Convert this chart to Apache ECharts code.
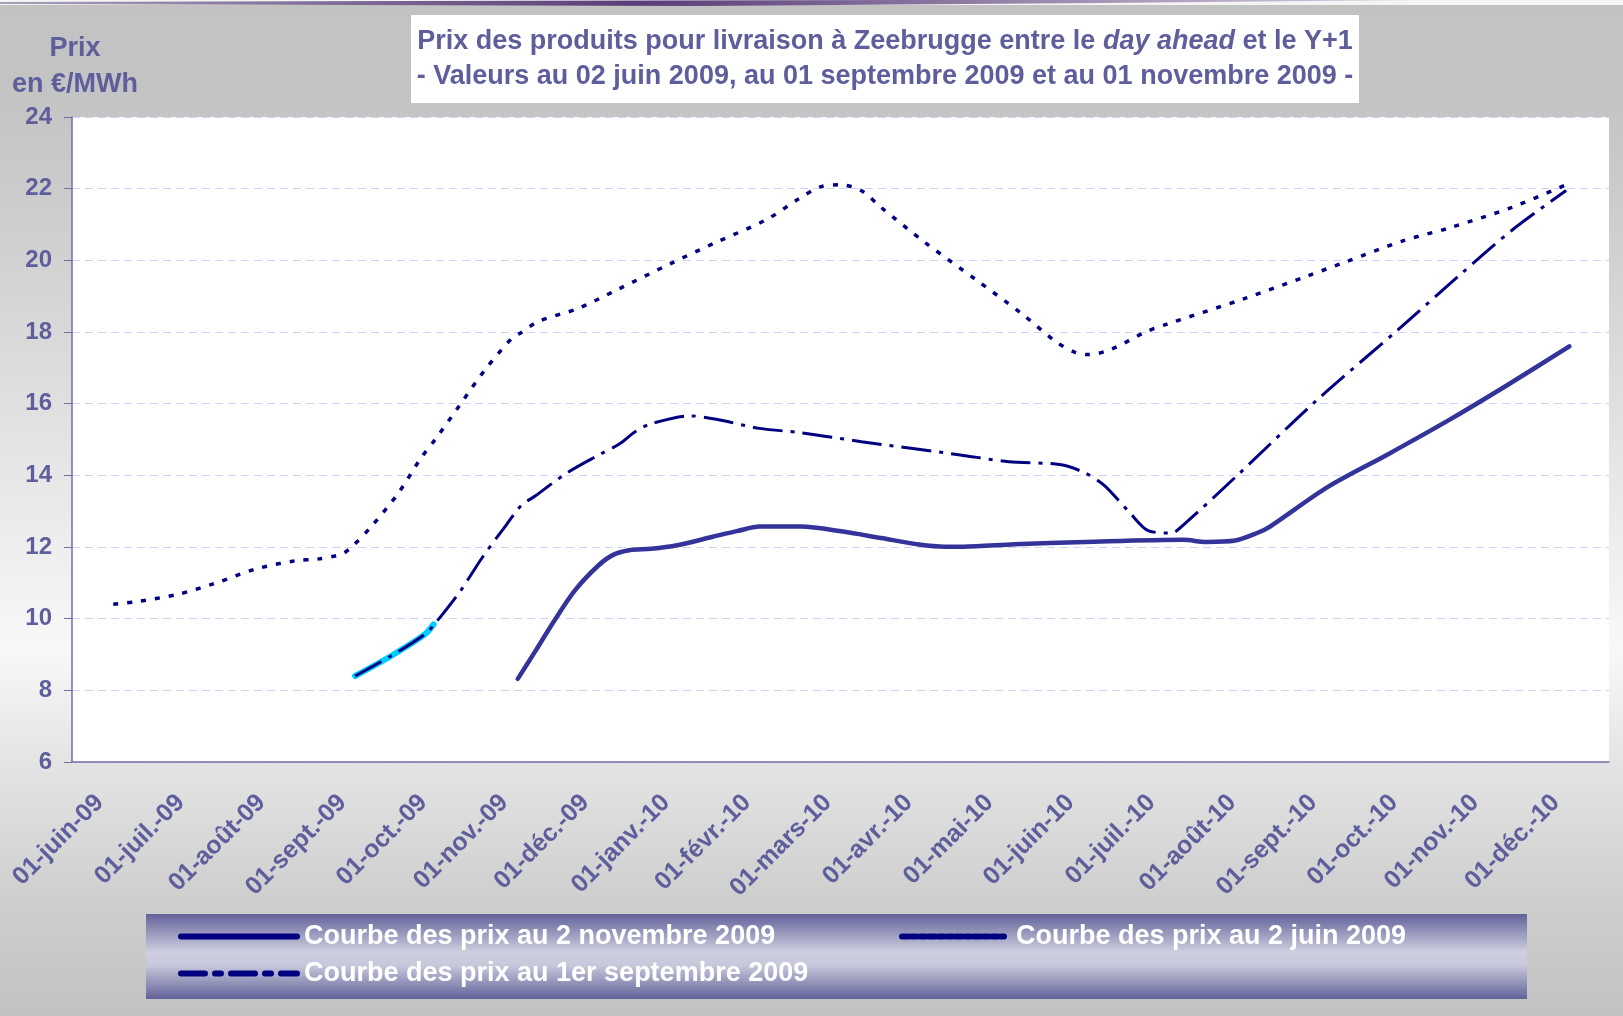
<!DOCTYPE html>
<html>
<head>
<meta charset="utf-8">
<title>Prix Zeebrugge</title>
<script src="https://cdn.jsdelivr.net/npm/echarts@6/dist/echarts.min.js"></script>
<style>
    html, body { margin: 0; padding: 0; }
    #grafico { width: 1623px; height: 1016px; }
</style>
</head>
<body>
<div id="grafico"></div>
<script>
// categories of the x axis (one per month)
var moisLabels = ['01-juin-09', '01-juil.-09', '01-août-09', '01-sept.-09', '01-oct.-09', '01-nov.-09', '01-déc.-09',
    '01-janv.-10', '01-févr.-10', '01-mars-10', '01-avr.-10', '01-mai-10', '01-juin-10', '01-juil.-10',
    '01-août-10', '01-sept.-10', '01-oct.-10', '01-nov.-10', '01-déc.-10'];

// y axis ticks
var prixTicks = [6, 8, 10, 12, 14, 16, 18, 20, 22, 24];

// points: [months since 01-juin-09, price €/MWh]
var courbeNov = [[5.51, 8.32], [5.73, 9.10], [5.95, 9.90], [6.21, 10.77], [6.50, 11.47], [6.69, 11.78], [6.89, 11.91],
    [7.16, 11.95], [7.48, 12.05], [7.91, 12.28], [8.23, 12.45], [8.50, 12.57], [9.01, 12.57], [9.53, 12.43],
    [10.0, 12.25], [10.47, 12.07], [10.79, 12.01], [11.02, 12.01], [11.65, 12.08], [12.52, 12.14], [13.74, 12.20],
    [14.02, 12.14], [14.38, 12.18], [14.65, 12.39], [14.81, 12.57], [15.52, 13.67], [16.27, 14.59], [17.02, 15.54],
    [17.73, 16.50], [18.51, 17.60]];

var courbeJuin = [[0.51, 10.40], [0.81, 10.48], [1.31, 10.68], [1.76, 10.98], [2.26, 11.38], [2.77, 11.62], [3.03, 11.66],
    [3.34, 11.81], [3.48, 12.05], [3.70, 12.57], [4.03, 13.49], [4.31, 14.47], [4.49, 15.0], [4.80, 15.98], [5.11, 16.96],
    [5.44, 17.83], [5.55, 17.98], [5.77, 18.30], [6.26, 18.66], [6.74, 19.18], [7.40, 19.91], [7.95, 20.49], [8.58, 21.13],
    [8.98, 21.71], [9.25, 22.05], [9.49, 22.11], [9.76, 21.94], [10.0, 21.48], [10.55, 20.49], [11.18, 19.45],
    [11.73, 18.53], [12.17, 17.72], [12.40, 17.43], [12.56, 17.37], [12.84, 17.51], [13.27, 18.0], [13.51, 18.2],
    [14.49, 18.93], [15.28, 19.57], [15.76, 19.97], [16.46, 20.55], [17.02, 20.90], [17.80, 21.48], [18.47, 22.11]];

var courbeSept = [[3.50, 8.40], [3.96, 8.98], [4.36, 9.56], [4.49, 9.87], [4.80, 10.77], [5.07, 11.70], [5.37, 12.62],
    [5.55, 13.15], [5.73, 13.43], [6.12, 14.07], [6.53, 14.59], [6.77, 14.88], [6.97, 15.23], [7.16, 15.44], [7.64, 15.66],
    [7.95, 15.57], [8.50, 15.31], [9.01, 15.19], [9.76, 14.94], [10.98, 14.57], [11.58, 14.38], [12.21, 14.30],
    [12.52, 14.07], [12.76, 13.72], [13.07, 12.97], [13.31, 12.45], [13.59, 12.39], [13.74, 12.62], [14.41, 14.01],
    [15.36, 16.04], [16.39, 18.06], [17.17, 19.62], [17.80, 20.84], [18.47, 21.95]];

// highlighted start of the september curve
var courbeSeptDebut = [[3.50, 8.40], [3.96, 8.98], [4.36, 9.56], [4.47, 9.84]];

var nomNov = 'Courbe des prix au 2 novembre 2009';
var nomJuin = 'Courbe des prix au 2 juin 2009';
var nomSept = 'Courbe des prix au 1er septembre 2009';

var violet = '#5e5e9c';
var police = '"Liberation Sans", Arial, sans-serif';

function legende(nom, left, top, largeur, type, ecart) {
    return {
        data: [nom],
        left: left,
        top: top,
        padding: 0,
        selectedMode: false,
        itemWidth: largeur,
        itemHeight: 14,
        itemStyle: { opacity: 0 },
        lineStyle: { color: '#000080', width: 6, type: type, cap: 'round' },
        textStyle: { color: '#fff', fontSize: 27, fontWeight: 'bold', fontFamily: police, padding: [0, 0, 0, ecart] }
    };
}

var chartDom = document.getElementById('grafico');
var myChart = echarts.init(chartDom);

var option = {
    animation: false,
    backgroundColor: {
        type: 'linear', x: 0, y: 0, x2: 0, y2: 1,
        colorStops: [
            { offset: 0, color: '#c2c2c2' },
            { offset: 0.1, color: '#c4c4c4' },
            { offset: 0.24, color: '#d0d0d0' },
            { offset: 0.64, color: '#f8f8f8' },
            { offset: 0.75, color: '#e4e4e4' },
            { offset: 0.89, color: '#cecece' },
            { offset: 1, color: '#c2c2c2' }
        ]
    },
    graphic: [
        {
            type: 'rect', z: -1,
            shape: { x: 0, y: 0, width: 1623, height: 5 },
            style: { fill: '#f4f4f4' }
        },
        {
            type: 'polygon', z: 0,
            shape: { points: [[0, 2], [400, 1], [900, 0], [1420, 0], [1100, 3], [700, 6], [0, 4]] },
            style: {
                fill: {
                    type: 'linear', x: 0, y: 0, x2: 1, y2: 0,
                    colorStops: [
                        { offset: 0, color: '#a8a0b8' },
                        { offset: 0.45, color: '#5a3d78' },
                        { offset: 1, color: '#d8d0e0' }
                    ]
                }
            }
        },
        {
            type: 'rect',
            shape: { x: 411, y: 15, width: 948, height: 88 },
            style: { fill: '#ffffff' }
        },
        {
            type: 'text',
            x: 885, y: 59,
            style: {
                text: '{n|Prix des produits pour livraison à Zeebrugge entre le }{i|day ahead}{n| et le Y+1}\n' +
                      '{n|- Valeurs au 02 juin 2009, au 01 septembre 2009 et au 01 novembre 2009 -}',
                align: 'center',
                verticalAlign: 'middle',
                rich: {
                    n: { fill: violet, fontSize: 27, fontWeight: 'bold', fontFamily: police, lineHeight: 35 },
                    i: { fill: violet, fontSize: 27, fontWeight: 'bold', fontStyle: 'italic', fontFamily: police, lineHeight: 35 }
                }
            }
        },
        {
            type: 'rect',
            shape: { x: 146, y: 914, width: 1381, height: 85 },
            style: {
                fill: {
                    type: 'linear', x: 0, y: 0, x2: 0, y2: 1,
                    colorStops: [
                        { offset: 0, color: '#62629a' },
                        { offset: 0.45, color: '#cfcfe0' },
                        { offset: 0.6, color: '#c8c8dc' },
                        { offset: 1, color: '#62629a' }
                    ]
                }
            }
        }
    ],
    legend: [
        legende(nomNov, 178, 923, 116, 'solid', 2),
        legende(nomJuin, 899, 923, 102, [6, 3], 7),
        legende(nomSept, 178, 960, 116, [24, 10, 6, 10], 2)
    ],
    grid: {
        left: 72, top: 117, right: 14, bottom: 254,
        show: true, backgroundColor: '#ffffff', borderWidth: 0
    },
    xAxis: [
        {
            type: 'category',
            data: moisLabels,
            boundaryGap: true,
            axisLine: { lineStyle: { color: '#6f6fa6', width: 1.5 } },
            axisTick: { length: 8, lineStyle: { color: '#6f6fa6' } },
            axisLabel: {
                interval: 0, rotate: 45, margin: 24,
                color: violet, fontSize: 25, fontWeight: 'bold', fontFamily: police,
                padding: [0, 18, 0, 0]
            }
        },
        {
            type: 'value', min: 0, max: 19, show: false
        }
    ],
    yAxis: {
        type: 'value',
        min: prixTicks[0],
        max: prixTicks[prixTicks.length - 1],
        interval: prixTicks[1] - prixTicks[0],
        name: 'Prix\nen €/MWh',
        nameLocation: 'end',
        nameGap: 14,
        nameTextStyle: {
            color: violet, fontSize: 27, fontWeight: 'bold', fontFamily: police,
            lineHeight: 36, align: 'center', verticalAlign: 'bottom', padding: [0, 0, 0, 6]
        },
        axisLine: { show: true, lineStyle: { color: '#6f6fa6', width: 1.5 } },
        axisTick: { show: true, length: 8, lineStyle: { color: '#6f6fa6' } },
        axisLabel: { margin: 20, color: violet, fontSize: 24, fontWeight: 'bold', fontFamily: police },
        splitLine: { lineStyle: { color: '#d0d0f8', width: 1, type: [8, 5] } }
    },
    series: [
        {
            name: 'debut', type: 'line', xAxisIndex: 1, data: courbeSeptDebut,
            symbol: 'none', smooth: 0.3, silent: true,
            lineStyle: { color: '#00ccff', width: 6, cap: 'round' }
        },
        {
            name: nomJuin, type: 'line', xAxisIndex: 1, data: courbeJuin,
            symbol: 'none', smooth: 0.3, color: '#000080',
            lineStyle: { color: '#000080', width: 3.5, type: [5, 9] }
        },
        {
            name: nomSept, type: 'line', xAxisIndex: 1, data: courbeSept,
            symbol: 'none', smooth: 0.3, color: '#000080',
            lineStyle: { color: '#000080', width: 3, type: [30, 8, 4, 8] }
        },
        {
            name: nomNov, type: 'line', xAxisIndex: 1, data: courbeNov,
            symbol: 'none', smooth: 0.3, color: '#333399',
            lineStyle: { color: '#333399', width: 4.5, cap: 'round' }
        }
    ]
};

option && myChart.setOption(option);
</script>
</body>
</html>
